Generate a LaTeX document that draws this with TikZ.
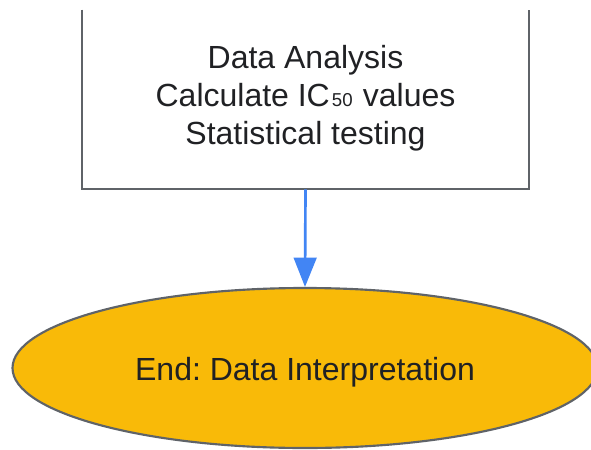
\documentclass[tikz,border=0pt]{standalone}
\usepackage{fontspec}
\setmainfont{Liberation Sans}
\usetikzlibrary{shapes.geometric,arrows.meta}
\definecolor{edgegray}{HTML}{5F6368}
\definecolor{flowblue}{HTML}{4285F4}
\definecolor{endyellow}{HTML}{F9BA08}
\definecolor{txtdark}{HTML}{202124}
\frenchspacing
\tikzset{
  boxarea/.style={minimum width=335.25pt, minimum height=134.25pt, inner sep=0pt},
  sideline/.style={draw=edgegray, line width=1.6pt},
  lbl/.style={text=txtdark, align=center, font=\fontsize{24}{28.5}\selectfont, inner sep=0pt},
  endnode/.style={ellipse, draw=edgegray, line width=1.6pt, fill=endyellow, minimum width=438.75pt, minimum height=120pt, inner sep=0pt, text=txtdark, text height=23pt, text depth=5pt, font=\fontsize{24}{28.5}\selectfont},
  flow/.style={draw=flowblue, line width=2pt, -{Triangle[length=22pt, width=17pt]}}
}
\begin{document}
\begin{tikzpicture}[x=0.75pt,y=-0.75pt]
\clip (0,0) rectangle (591,449);
\fill[white] (0,0) rectangle (591,449);
\node[boxarea] (da) at (305.5,99.5) {};
\draw[sideline] (da.north west) -- (da.south west) -- (da.south east) -- (da.north east);
\node[lbl] (datext) at (305.5,98.5) {Data Analysis\\Calculate IC\hspace{1.5pt}{\fontsize{14}{14}\selectfont 50}\hspace{1pt} values\\Statistical testing};
\node[endnode] (end) at (305,368) {End: Data Interpretation};
\draw[flow] (da.south) -- (end.north);
\end{tikzpicture}
\end{document}
